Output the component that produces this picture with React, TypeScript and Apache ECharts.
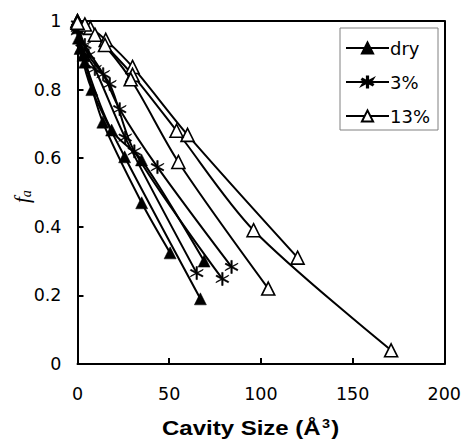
import React, { useEffect, useRef } from "react";
import * as echarts from "echarts";

// Fraction f_a versus cavity size, one curve per sample
const dryA: [number, number][] = [[0, 1.0], [0.5, 0.95], [4, 0.88], [13.8, 0.705], [35, 0.47], [50.5, 0.324]];
const dryB: [number, number][] = [[0, 0.99], [1.4, 0.92], [7.8, 0.8], [25.7, 0.604], [67, 0.19]];
const dryC: [number, number][] = [[0, 0.98], [3, 0.9], [18.6, 0.682], [34.9, 0.595], [69, 0.3]];

const wet3A: [number, number][] = [[0, 0.99], [4, 0.93], [14, 0.845], [23, 0.743], [43.6, 0.574], [84, 0.283]];
const wet3B: [number, number][] = [[0, 0.98], [6, 0.9], [17.6, 0.816], [31, 0.62], [79, 0.248]];
const wet3C: [number, number][] = [[0, 0.97], [2.5, 0.92], [9.5, 0.86], [26, 0.66], [65, 0.265]];

const wet13A: [number, number][] = [[0, 1.0], [7, 0.98], [15.4, 0.945], [30, 0.866], [60, 0.668], [120, 0.31]];
const wet13B: [number, number][] = [[0, 1.0], [4, 0.99], [15, 0.93], [30, 0.843], [54, 0.68], [96, 0.39], [171, 0.04]];
const wet13C: [number, number][] = [[0, 0.995], [9.5, 0.96], [29, 0.83], [55, 0.589], [104, 0.22]];

const seriesNames = ["dry", "3%", "13%"];
const xTicks = [0, 50, 100, 150, 200];
const yTicks = [0, 0.2, 0.4, 0.6, 0.8, 1];

// six-armed asterisk marker
const asterisk =
  "path://M9 0L11 0L11 20L9 20Z" +
  "M0.84 15.87L18.16 5.87L19.16 4.13L1.84 14.13Z" +
  "M0.84 5.87L1.84 4.13L19.16 14.13L18.16 15.87Z";

const FONT = "'DejaVu Sans', sans-serif";
const TITLE_FONT = "'Liberation Sans', Arial, sans-serif";

function lineSeries(name: string, data: [number, number][]) {
  const base: any = {
    type: "line",
    name,
    data,
    smooth: 0.3,
    lineStyle: { color: "#000", width: 2 },
    emphasis: { disabled: true },
  };
  if (name === "dry") {
    base.symbol = "triangle";
    base.symbolSize = 12;
    base.itemStyle = { color: "#000", borderColor: "#000", borderWidth: 0.5 };
  } else if (name === "3%") {
    base.symbol = asterisk;
    base.symbolSize = 13;
    base.itemStyle = { color: "#000", borderColor: "#000", borderWidth: 0.6 };
  } else {
    base.symbol = "triangle";
    base.symbolSize = 13;
    base.itemStyle = { color: "#fff", borderColor: "#000", borderWidth: 1.6 };
  }
  return base;
}

// plain axes that close the plot frame on the top and right
const frameAxis = {
  type: "value",
  axisLine: { show: true, onZero: false, lineStyle: { color: "#000", width: 2 } },
  axisTick: { show: false },
  axisLabel: { show: false },
  splitLine: { show: false },
};

export default function App() {
  const ref = useRef<HTMLDivElement>(null);

  useEffect(() => {
    if (!ref.current) return;
    document.body.style.margin = "0";
    document.body.style.overflow = "hidden";
    const chart = echarts.init(ref.current, undefined, { renderer: "svg" });
    chart.setOption({
      animation: false,
      backgroundColor: "#fff",
      grid: { left: 77.5, right: 16.5, top: 21, bottom: 77, show: false },
      xAxis: [
        {
          type: "value",
          min: xTicks[0],
          max: xTicks[xTicks.length - 1],
          interval: 50,
          axisLine: { show: true, onZero: false, lineStyle: { color: "#000", width: 2 } },
          axisTick: { show: true, inside: true, length: 6, lineStyle: { color: "#000", width: 2 } },
          splitLine: { show: false },
          axisLabel: { color: "#000", fontSize: 17.5, fontFamily: FONT, margin: 21 },
        },
        { ...frameAxis, position: "top", min: 0, max: 200 },
      ],
      yAxis: [
        {
          type: "value",
          min: yTicks[0],
          max: yTicks[yTicks.length - 1],
          interval: 0.2,
          axisLine: { show: true, onZero: false, lineStyle: { color: "#000", width: 2 } },
          axisTick: { show: true, inside: true, length: 6, lineStyle: { color: "#000", width: 2 } },
          splitLine: { show: false },
          axisLabel: {
            color: "#000",
            fontSize: 17.5,
            fontFamily: FONT,
            margin: 16,
            formatter: (v: number) => String(Number(v.toFixed(1))),
          },
        },
        { ...frameAxis, position: "right", min: 0, max: 1 },
      ],
      legend: {
        orient: "vertical",
        left: 340,
        top: 28,
        data: seriesNames,
        backgroundColor: "#fff",
        borderColor: "#808080",
        borderWidth: 1,
        borderRadius: 0,
        padding: [11, 8, 5, 5],
        itemWidth: 43,
        itemHeight: 14,
        itemGap: 16,
        textStyle: { color: "#000", fontSize: 18, fontFamily: FONT, padding: [0, 0, 0, -4] },
      },
      graphic: [
        {
          type: "text",
          x: 162,
          y: 418,
          scaleX: 1.2,
          style: {
            text: "{b|Cavity Size (Å}{s|3}{b|)}",
            rich: {
              b: { fontSize: 20, fontWeight: "bold", fontFamily: TITLE_FONT, fill: "#000" },
              s: { fontSize: 12, fontWeight: "bold", fontFamily: TITLE_FONT, fill: "#000", verticalAlign: "top", padding: [0, 1, 9, 1] },
            },
          },
        },
        {
          type: "text",
          x: 11,
          y: 203,
          rotation: Math.PI / 2,
          style: {
            text: "{f|f}{a|a}",
            rich: {
              f: { fontSize: 21, fontStyle: "italic", fontFamily: "'Liberation Serif', serif", fill: "#000" },
              a: { fontSize: 14, fontStyle: "italic", fontFamily: "'Liberation Serif', serif", fill: "#000", padding: [8, 0, 0, 0] },
            },
          },
        },
      ],
      series: [
        lineSeries("dry", dryA),
        lineSeries("dry", dryB),
        lineSeries("dry", dryC),
        lineSeries("3%", wet3A),
        lineSeries("3%", wet3B),
        lineSeries("3%", wet3C),
        lineSeries("13%", wet13A),
        lineSeries("13%", wet13B),
        lineSeries("13%", wet13C),
      ],
    });
    return () => chart.dispose();
  }, []);

  return <div ref={ref} style={{ position: "absolute", left: 0, top: 0, width: 464, height: 441 }} />;
}
